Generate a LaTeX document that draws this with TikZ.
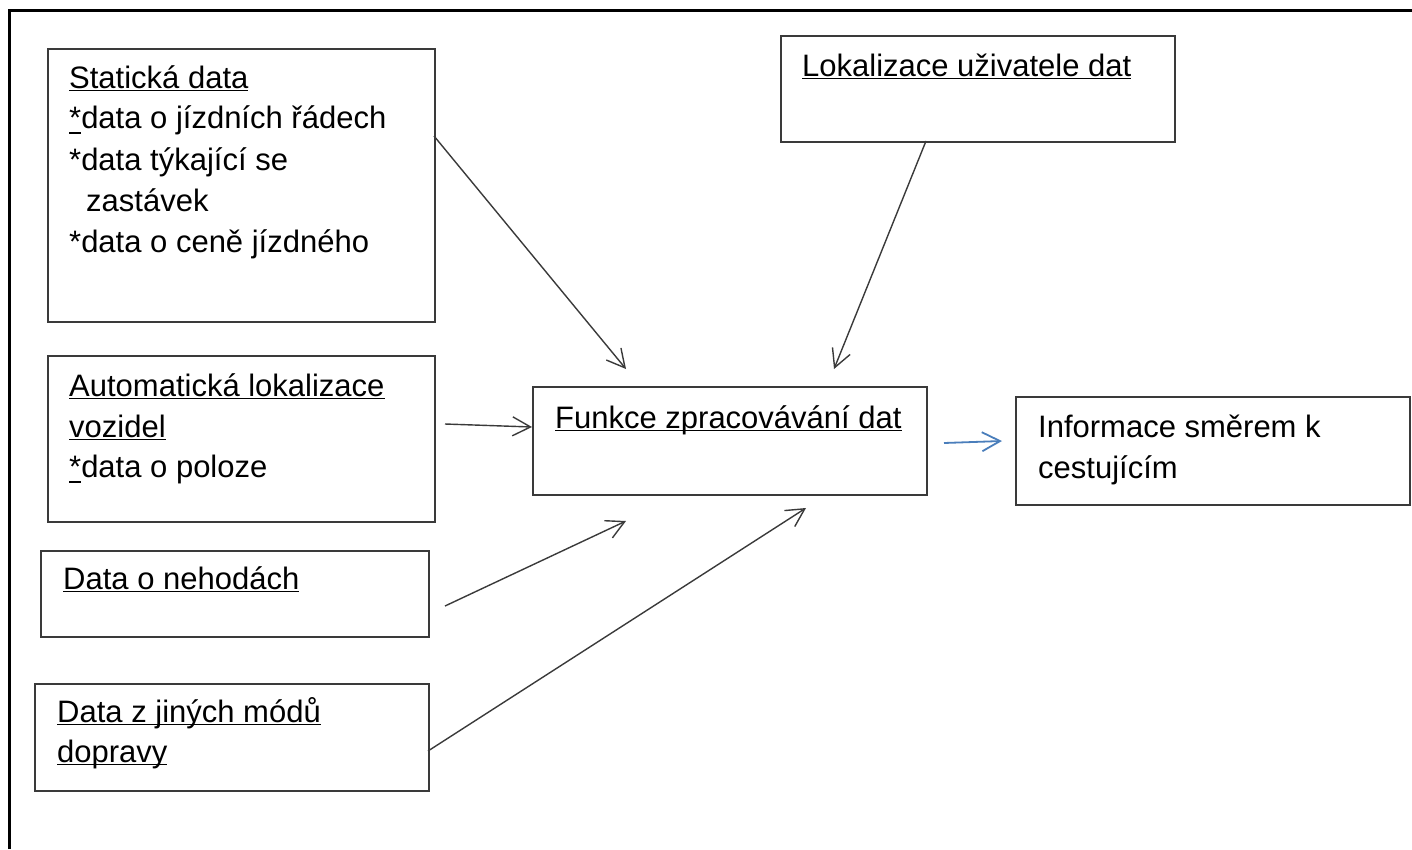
\documentclass[tikz,border=0pt]{standalone}
\usepackage{fontspec}
\setmainfont{Liberation Sans}
\usetikzlibrary{arrows.meta}
\definecolor{bord}{HTML}{3A3A3A}
\definecolor{blu}{HTML}{4A7EBB}
\newcommand{\ulx}[2][3.4pt]{\setbox0=\hbox{#2}\rlap{\rule[-#1]{\wd0}{1.8pt}}\box0}
\begin{document}
\begin{tikzpicture}[x=1pt,y=-1pt,
  box/.style={draw=bord,line width=1.6pt,inner sep=0pt,anchor=north west},
  txt/.style={anchor=base west,inner sep=0pt,font=\fontsize{31}{41}\selectfont},
  arr/.style={draw=bord,line width=1.4pt,-{Straight Barb[length=18pt,width=19pt]}},
  barr/.style={arr,draw=blu,line width=1.8pt}]
\useasboundingbox (0,0) rectangle (1412,849);
\draw[line width=3pt] (9,849) -- (9,10) -- (1412,10);
% boxes
\node[box,minimum width=387pt,minimum height=273pt] (stat) at (47,48) {};
\node[box,minimum width=387pt,minimum height=166pt] (auto) at (47,355) {};
\node[box,minimum width=388pt,minimum height=86pt] (neh) at (40,550) {};
\node[box,minimum width=394pt,minimum height=107pt] (jin) at (34,683) {};
\node[box,minimum width=394pt,minimum height=106pt] (lok) at (780,35) {};
\node[box,minimum width=394pt,minimum height=108pt] (fun) at (532,386) {};
\node[box,minimum width=394pt,minimum height=108pt] (inf) at (1015,396) {};
% texts
\node[txt] (s1) at (69,88) {\ulx{Statická data}};
\node[txt] (s2) at (69,128) {\ulx[6pt]{*}data o jízdních řádech};
\node[txt] (s3) at (69,170) {*data týkající se};
\node[txt] (s4) at (86,211) {zastávek};
\node[txt] (s5) at (69,252) {*data o ceně jízdného};
\node[txt] (a1) at (69,396) {\ulx{Automatická lokalizace}};
\node[txt] (a2) at (69,437) {\ulx{vozidel}};
\node[txt] (a3) at (69,477) {\ulx[6pt]{*}data o poloze};
\node[txt] (n1) at (63,589) {\ulx{Data o nehodách}};
\node[txt] (j1) at (57,722) {\ulx{Data z jiných módů}};
\node[txt] (j2) at (57,762) {\ulx{dopravy}};
\node[txt] (l1) at (802,76) {\ulx{Lokalizace uživatele dat}};
\node[txt] (f1) at (555,428) {\ulx{Funkce zpracovávání dat}};
\node[txt] (i1) at (1038,437) {Informace směrem k};
\node[txt] (i2) at (1038,478) {cestujícím};
% connector end points
\coordinate (st1) at (434,136);
\coordinate (en1) at (626,369);
\coordinate (st2) at (926,141);
\coordinate (en2) at (834,369);
\coordinate (st3) at (445,424);
\coordinate (en3) at (532,427);
\coordinate (st4) at (445,606);
\coordinate (en4) at (626,521);
\coordinate (st5) at (428,751);
\coordinate (en5) at (806,508);
\coordinate (st6) at (944,443);
\coordinate (en6) at (1002,441);
\draw[arr] (st1) -- (en1);
\draw[arr] (st2) -- (en2);
\draw[arr] (st3) -- (en3);
\draw[arr] (st4) -- (en4);
\draw[arr] (st5) -- (en5);
\draw[barr] (st6) -- (en6);
\end{tikzpicture}
\end{document}
